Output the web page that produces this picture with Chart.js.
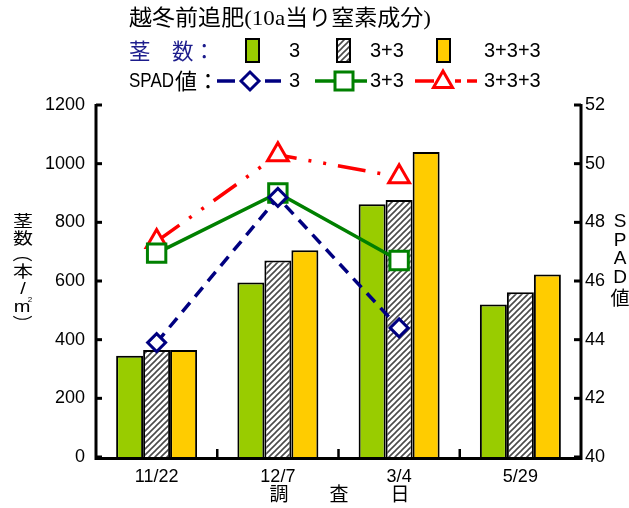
<!DOCTYPE html>
<html>
<head>
<meta charset="utf-8">
<script src="https://cdn.jsdelivr.net/npm/chart.js@4.4.1/dist/chart.umd.min.js"></script>
<style>
  html, body { margin: 0; padding: 0; background: #fff; }
  canvas { display: block; }
</style>
</head>
<body>
<canvas id="c" width="629" height="508"></canvas>
<script>
// Survey dates
const categories = ['11/22', '12/7', '3/4', '5/29'];
// Fertiliser plans (kg N per 10a)
const planLabels = ['3', '3+3', '3+3+3'];
// Stem counts (stems / m²)
const stems3 = [345, 595, 862, 520];
const stems33 = [365, 670, 876, 562];
const stems333 = [365, 705, 1040, 622];
// SPAD readings (not measured on 5/29)
const spad3 = [43.9, 48.85, 44.4, null];
const spad33 = [46.95, 49.0, 46.7, null];
const spad333 = [47.35, 50.3, 49.55, null];
// Axis ticks
const stemTicks = [0, 200, 400, 600, 800, 1000, 1200];
const spadTicks = [40, 42, 44, 46, 48, 50, 52];

const GREEN = '#99CC00', YELLOW = '#FFCC00';
const BLUE = '#000080', LGREEN = '#008000', RED = '#FF0000';
const NAVY_TEXT = '#1c1c8c';
const SANS = '"Liberation Sans", Arial, sans-serif';
const JP = '"Noto Sans CJK JP", sans-serif';

// diagonal hatch fill
function makeHatch() {
  const s = 6;
  const pc = document.createElement('canvas');
  pc.width = s; pc.height = s;
  const p = pc.getContext('2d');
  p.fillStyle = '#fff'; p.fillRect(0, 0, s, s);
  p.strokeStyle = '#4a4a4a'; p.lineWidth = 1.6;
  p.beginPath();
  p.moveTo(-1, s + 1); p.lineTo(s + 1, -1);
  p.moveTo(-1, 1); p.lineTo(1, -1);
  p.moveTo(s - 1, s + 1); p.lineTo(s + 1, s - 1);
  p.stroke();
  return document.getElementById('c').getContext('2d').createPattern(pc, 'repeat');
}
const HATCH = makeHatch();

function fitText(ctx, text, x, y, w, font, color) {
  ctx.save();
  ctx.font = font; ctx.fillStyle = color;
  ctx.textBaseline = 'middle'; ctx.textAlign = 'left';
  const m = ctx.measureText(text).width;
  ctx.translate(x, y); ctx.scale(w / m, 1);
  ctx.fillText(text, 0, 0);
  ctx.restore();
}
function text(ctx, t, x, y, font, color, align) {
  ctx.save();
  ctx.font = font; ctx.fillStyle = color || '#000';
  ctx.textBaseline = 'middle'; ctx.textAlign = align || 'left';
  ctx.fillText(t, x, y);
  ctx.restore();
}
// glyph squeezed vertically, optionally turned a quarter
function vglyph(ctx, t, x, y, font, sy, rot) {
  ctx.save();
  ctx.translate(x, y); ctx.scale(1, sy);
  if (rot) ctx.rotate(Math.PI / 2);
  text(ctx, t, 0, 0, font, '#000', 'center');
  ctx.restore();
}
function diamond(ctx, x, y, r) {
  ctx.beginPath();
  ctx.moveTo(x - r, y); ctx.lineTo(x, y - r); ctx.lineTo(x + r, y); ctx.lineTo(x, y + r);
  ctx.closePath();
}
function triangle(ctx, x, y, r) {
  const a = r * Math.sqrt(3) / 2;
  ctx.beginPath();
  ctx.moveTo(x, y - r); ctx.lineTo(x + a, y + r / 2); ctx.lineTo(x - a, y + r / 2);
  ctx.closePath();
}
function seg(ctx, x1, x2, y, color, w) {
  ctx.save();
  ctx.strokeStyle = color; ctx.lineWidth = w;
  ctx.beginPath(); ctx.moveTo(x1, y); ctx.lineTo(x2, y); ctx.stroke();
  ctx.restore();
}

// axes frame, titles and key drawn on top of the plot
const decorations = {
  id: 'decorations',
  afterDraw(chart) {
    const ctx = chart.ctx;
    const a = chart.chartArea;
    const yS = chart.scales.y, y2S = chart.scales.y2, xS = chart.scales.x;
    ctx.save();
    ctx.strokeStyle = '#000';
    ctx.lineCap = 'butt';
    // axis lines
    ctx.lineWidth = 3;
    ctx.beginPath();
    ctx.moveTo(a.left, a.top - 1); ctx.lineTo(a.left, a.bottom + 1.5);
    ctx.lineTo(a.right, a.bottom + 1.5); ctx.lineTo(a.right, a.top - 1);
    ctx.stroke();
    // inward tick marks
    ctx.lineWidth = 3;
    stemTicks.forEach(v => {
      const y = yS.getPixelForValue(v);
      ctx.beginPath(); ctx.moveTo(a.left, y); ctx.lineTo(a.left + 6, y); ctx.stroke();
    });
    spadTicks.forEach(v => {
      const y = y2S.getPixelForValue(v);
      ctx.beginPath(); ctx.moveTo(a.right, y); ctx.lineTo(a.right - 7, y); ctx.stroke();
    });
    ctx.lineWidth = 2.5;
    for (let i = 1; i < categories.length; i++) {
      const x = (xS.getPixelForValue(i - 1) + xS.getPixelForValue(i)) / 2;
      ctx.beginPath(); ctx.moveTo(x, a.bottom + 1); ctx.lineTo(x, a.bottom - 8); ctx.stroke();
    }
    ctx.restore();

    // x-axis title
    text(ctx, '調', 279, 494, '19px ' + JP, '#000', 'center');
    text(ctx, '査', 339, 494, '19px ' + JP, '#000', 'center');
    text(ctx, '日', 400, 494, '19px ' + JP, '#000', 'center');

    // left axis title, set vertically
    const lx = 23;
    const lf = '20px ' + JP;
    const sq = 0.8;
    vglyph(ctx, '茎', lx, 221, lf, sq);
    vglyph(ctx, '数', lx, 238, lf, sq);
    vglyph(ctx, '（', lx, 254, lf, sq, true);
    vglyph(ctx, '本', lx, 271, lf, sq);
    vglyph(ctx, '/', lx, 290, '20px ' + SANS, sq);
    vglyph(ctx, 'm', lx - 1, 308, '20px ' + SANS, sq);
    vglyph(ctx, '2', lx + 7, 300, '8px ' + SANS, 1);
    vglyph(ctx, '）', lx, 323, lf, sq, true);

    // right axis title
    const rx = 620;
    ['S', 'P', 'A', 'D'].forEach((ch, i) => {
      text(ctx, ch, rx, 222 + i * 18.5, '19px ' + SANS, '#000', 'center');
    });
    text(ctx, '値', rx, 298, '19px ' + JP, '#000', 'center');

    // heading
    fitText(ctx, '越冬前追肥(10a当り窒素成分)', 129, 19, 302, '22px "Liberation Serif", "Noto Sans CJK JP", serif', '#000');

    // key row: stem counts
    const r2 = 51;
    fitText(ctx, '茎　数：', 129, r2, 86, '22px ' + JP, NAVY_TEXT);
    const boxes = [[246, GREEN], [337, HATCH], [437, YELLOW]];
    const labX = [289, 370, 484];
    boxes.forEach(([x, fill], i) => {
      ctx.save();
      ctx.fillStyle = fill; ctx.fillRect(x, 39, 13, 23);
      ctx.strokeStyle = '#000'; ctx.lineWidth = 2; ctx.strokeRect(x, 39, 13, 23);
      ctx.restore();
      text(ctx, planLabels[i], labX[i], r2, '20px ' + SANS, '#000');
    });

    // key row: SPAD
    const r3 = 81;
    fitText(ctx, 'SPAD', 129, r3, 45, '21px ' + SANS, '#000');
    text(ctx, '値：', 175, r3, '22px ' + JP, '#000');
    ctx.save();
    seg(ctx, 217, 235, r3, BLUE, 3.5);
    seg(ctx, 265, 281, r3, BLUE, 3.5);
    ctx.fillStyle = '#fff'; ctx.strokeStyle = BLUE; ctx.lineWidth = 3;
    diamond(ctx, 250, r3, 9); ctx.fill(); ctx.stroke();
    seg(ctx, 315, 367, r3, LGREEN, 3.5);
    ctx.fillStyle = '#fff'; ctx.strokeStyle = LGREEN; ctx.lineWidth = 3;
    ctx.fillRect(335, r3 - 9, 18, 18); ctx.strokeRect(335, r3 - 9, 18, 18);
    seg(ctx, 415, 434, r3, RED, 3.5);
    seg(ctx, 455, 461, r3, RED, 3.5);
    seg(ctx, 467, 477, r3, RED, 3.5);
    ctx.fillStyle = '#fff'; ctx.strokeStyle = RED; ctx.lineWidth = 3;
    triangle(ctx, 443, r3 + 1, 11); ctx.fill(); ctx.stroke();
    ctx.restore();
    planLabels.forEach((t, i) => text(ctx, t, labX[i], r3, '20px ' + SANS, '#000'));
  }
};

const barBase = {
  type: 'bar',
  yAxisID: 'y',
  borderColor: '#000',
  borderWidth: 2,
  borderSkipped: 'start',
  categoryPercentage: 0.668,
  barPercentage: 1.0,
  order: 2
};
const lineBase = {
  type: 'line',
  yAxisID: 'y2',
  fill: false,
  tension: 0,
  borderWidth: 3.5,
  pointBackgroundColor: '#fff',
  pointBorderWidth: 3,
  spanGaps: false,
  order: 1
};

const plain = v => String(v);

new Chart(document.getElementById('c'), {
  type: 'bar',
  data: {
    labels: categories,
    datasets: [
      Object.assign({}, barBase, { label: planLabels[0], data: stems3, backgroundColor: GREEN }),
      Object.assign({}, barBase, { label: planLabels[1], data: stems33, backgroundColor: HATCH }),
      Object.assign({}, barBase, { label: planLabels[2], data: stems333, backgroundColor: YELLOW }),
      Object.assign({}, lineBase, {
        label: 'SPAD ' + planLabels[0], data: spad3, borderColor: BLUE, pointBorderColor: BLUE,
        borderDash: [12, 8], pointStyle: 'rectRot', pointRadius: 9
      }),
      Object.assign({}, lineBase, {
        label: 'SPAD ' + planLabels[1], data: spad33, borderColor: LGREEN, pointBorderColor: LGREEN,
        pointStyle: 'rect', pointRadius: 13
      }),
      Object.assign({}, lineBase, {
        label: 'SPAD ' + planLabels[2], data: spad333, borderColor: RED, pointBorderColor: RED,
        borderDash: [28, 12, 3, 12, 3, 12], pointStyle: 'triangle', pointRadius: 12
      })
    ]
  },
  options: {
    responsive: false,
    animation: false,
    devicePixelRatio: 1,
    layout: { padding: { top: 105, left: 0, right: 0, bottom: 0 } },
    plugins: { legend: { display: false }, tooltip: { enabled: false } },
    scales: {
      x: {
        type: 'category',
        offset: true,
        grid: { display: false, drawTicks: false },
        border: { display: false },
        ticks: { color: '#000', font: { family: SANS, size: 18 }, padding: 9, maxRotation: 0, autoSkip: false },
        afterFit(s) { s.height = 51; }
      },
      y: {
        position: 'left',
        min: 0, max: 1200,
        afterBuildTicks(s) { s.ticks = stemTicks.map(v => ({ value: v })); },
        grid: { display: false, drawTicks: false },
        border: { display: false },
        ticks: { color: '#000', font: { family: SANS, size: 18 }, padding: 11, callback: plain },
        afterFit(s) { s.width = 96; }
      },
      y2: {
        position: 'right',
        min: 40, max: 52,
        afterBuildTicks(s) { s.ticks = spadTicks.map(v => ({ value: v })); },
        grid: { display: false, drawTicks: false },
        border: { display: false },
        ticks: { color: '#000', font: { family: SANS, size: 18 }, padding: 4, callback: plain },
        afterFit(s) { s.width = 48; }
      }
    }
  },
  plugins: [decorations]
});
</script>
</body>
</html>
